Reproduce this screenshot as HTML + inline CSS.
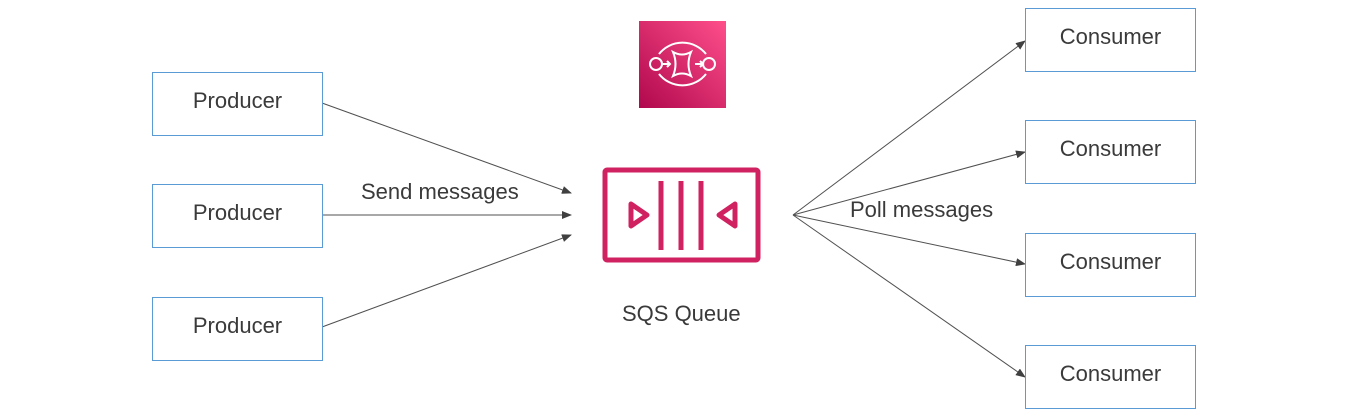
<!DOCTYPE html>
<html><head><meta charset="utf-8"><style>
html,body{margin:0;padding:0;background:#fff;}
body{width:1352px;height:416px;position:relative;overflow:hidden;font-family:"Liberation Sans",sans-serif;}
.box{position:absolute;width:171px;height:64px;border:1.5px solid #5b9bd5;box-sizing:border-box;color:#3a3a3a;font-size:22px;text-align:center;line-height:56px;background:#fff;}
.lbl{position:absolute;color:#3a3a3a;font-size:22px;white-space:nowrap;}
svg{position:absolute;left:0;top:0;}
</style></head><body>
<svg width="1352" height="416">
<defs>
<marker id="a" markerWidth="10" markerHeight="8" refX="9" refY="4" orient="auto" markerUnits="userSpaceOnUse"><path d="M0,0 L10,4 L0,8 Z" fill="#404040"/></marker>
<linearGradient id="g" x1="0" y1="1" x2="1" y2="0"><stop offset="0" stop-color="#b0084d"/><stop offset="1" stop-color="#ff4f8b"/></linearGradient>
</defs>
<g stroke="#505050" stroke-width="1" fill="none">
<line x1="322" y1="103" x2="571" y2="193" marker-end="url(#a)"/>
<line x1="322" y1="215" x2="571" y2="215" marker-end="url(#a)"/>
<line x1="322" y1="327" x2="571" y2="235" marker-end="url(#a)"/>
<line x1="793" y1="215" x2="1025" y2="41" marker-end="url(#a)"/>
<line x1="793" y1="215" x2="1025" y2="152" marker-end="url(#a)"/>
<line x1="793" y1="215" x2="1025" y2="264" marker-end="url(#a)"/>
<line x1="793" y1="215" x2="1025" y2="377" marker-end="url(#a)"/>
</g>
<rect x="639" y="21" width="87" height="87" fill="url(#g)"/>
<g stroke="#fff" stroke-width="2" fill="none">
<path d="M659,54 A30,30 0 0 1 706,54"/>
<path d="M659,74 A30,30 0 0 0 706,74"/>
<circle cx="656" cy="64" r="6"/>
<circle cx="709" cy="64" r="6"/>
<path d="M673,52 Q682,57 691,52 Q686,64 691,76 Q682,71 673,76 Q678,64 673,52 Z"/>
<line x1="662" y1="64" x2="670" y2="64"/><path d="M667,61 L670,64 L667,67"/>
<line x1="695" y1="64" x2="703" y2="64"/><path d="M700,61 L703,64 L700,67"/>
</g>
<g stroke="#d02260" stroke-width="5" fill="none">
<rect x="605" y="170" width="153" height="90" rx="2"/>
<line x1="661" y1="181" x2="661" y2="250"/>
<line x1="681" y1="181" x2="681" y2="250"/>
<line x1="701" y1="181" x2="701" y2="250"/>
<path d="M631,204 L647,215 L631,226 Z" stroke-linejoin="round"/>
<path d="M735,204 L719,215 L735,226 Z" stroke-linejoin="round"/>
</g>
</svg>
<div class="box" style="left:152px;top:72px">Producer</div>
<div class="box" style="left:152px;top:184px">Producer</div>
<div class="box" style="left:152px;top:297px">Producer</div>
<div class="box" style="left:1025px;top:8px">Consumer</div>
<div class="box" style="left:1025px;top:120px">Consumer</div>
<div class="box" style="left:1025px;top:233px">Consumer</div>
<div class="box" style="left:1025px;top:345px">Consumer</div>
<div class="lbl" style="left:361px;top:179px">Send messages</div>
<div class="lbl" style="left:850px;top:197px">Poll messages</div>
<div class="lbl" style="left:622px;top:301px">SQS Queue</div>
</body></html>
